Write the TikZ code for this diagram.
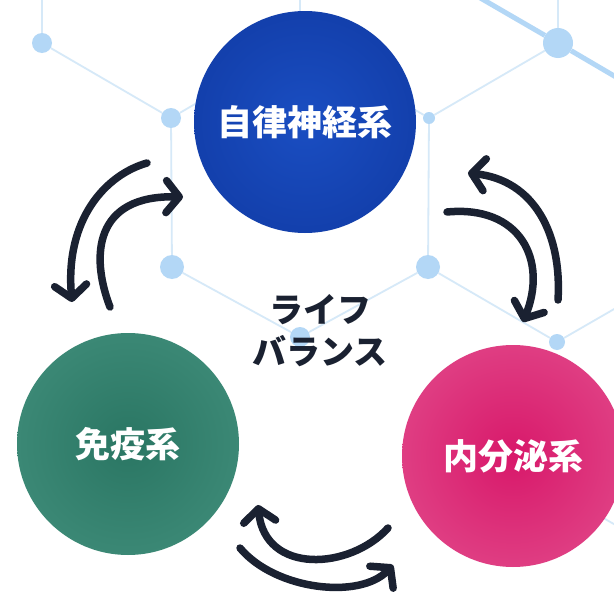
\documentclass[tikz,border=0pt]{standalone}
\usepackage{fontspec}
\newfontfamily\jpfont{Noto Sans CJK JP}
\usetikzlibrary{arrows.meta}

\definecolor{netline}{HTML}{D6E9F8}
\definecolor{netdot}{HTML}{B3D7F6}
\definecolor{ink}{HTML}{1A2131}
\definecolor{blueIn}{HTML}{1A4EC2}
\definecolor{blueOut}{HTML}{0C3196}
\definecolor{greenIn}{HTML}{2A7663}
\definecolor{greenOut}{HTML}{4C9A87}
\definecolor{pinkIn}{HTML}{D8186A}
\definecolor{pinkOut}{HTML}{E6639B}

\pgfdeclareradialshading{blueball}{\pgfpoint{0bp}{0bp}}{color(0bp)=(blueIn); color(50bp)=(blueOut)}
\pgfdeclareradialshading{greenball}{\pgfpoint{0bp}{0bp}}{color(0bp)=(greenIn); color(50bp)=(greenOut)}
\pgfdeclareradialshading{pinkball}{\pgfpoint{0bp}{0bp}}{color(0bp)=(pinkIn); color(50bp)=(pinkOut)}

\begin{document}
\begin{tikzpicture}[x=1pt, y=-1pt,
    dot/.style={circle, fill=netdot, inner sep=0pt},
    net/.style={draw=netline, line width=1.8pt},
    ball/.style={circle, minimum size=222pt, inner sep=0pt, text=white,
      font=\jpfont\bfseries\fontsize{35}{40}\selectfont},
    arr/.style={draw=ink, line width=7.5pt, line cap=round,
      -{Straight Barb[length=13pt 0, width=32pt 0, round]}}]
  \useasboundingbox (0,0) rectangle (614,597);
  \fill[white] (0,0) rectangle (614,597);

  % background network
  \coordinate (t1) at (42,-10);
  \coordinate (t3) at (300,-10);
  \coordinate (t5) at (558,-10);
  \coordinate (e1) at (470,-8);
  \coordinate (e2) at (650,97);
  \coordinate (e3) at (687,267);
  \coordinate (e4) at (558,492);
  \coordinate (e5) at (687,566);
  \node[dot, minimum size=20pt] (n1) at (42,43) {};
  \node[dot, minimum size=20pt] (n2) at (171,118) {};
  \node[dot, minimum size=12pt] (n3) at (300,43) {};
  \node[dot, minimum size=12pt] (n4) at (429,118) {};
  \node[dot, minimum size=30pt] (n5) at (558,43) {};
  \node[dot, minimum size=24pt] (n6) at (172,267) {};
  \node[dot, minimum size=20pt] (n7) at (300,337) {};
  \node[dot, minimum size=24pt] (n8) at (428,267) {};
  \node[dot, minimum size=16pt] (n9) at (557,342) {};
  \draw[net] (t1) -- (n1) -- (n2) -- (n3) -- (n4) -- (n5) -- (t5);
  \draw[net] (t3) -- (n3);
  \draw[net] (n2) -- (n6) -- (n7) -- (n8) -- (n4);
  \draw[net] (n8) -- (n9) -- (e3);
  \draw[net] (e4) -- (e5);
  \draw[netdot, line width=5pt] (e1) -- (n5) -- (e2);

  % the three systems
  \node[ball, shading=blueball] (ans) at (305,122) {自律神経系};
  \node[ball, shading=greenball] (imm) at (128,444) {免疫系};
  \node[ball, shading=pinkball] (endo) at (513,456) {内分泌系};

  \node[text=ink, align=center, font=\jpfont\bfseries\fontsize{34}{42}\selectfont] (life) at (320,331) {ライフ\\バランス};

  % arrows
  \coordinate (la1) at (147,163);
  \coordinate (la2) at (72,302);
  \coordinate (lb1) at (110,307);
  \coordinate (lb2) at (183,197);
  \coordinate (ra1) at (558,300);
  \coordinate (ra2) at (468,173);
  \coordinate (rb1) at (447,212);
  \coordinate (rb2) at (523,322);
  \coordinate (ba1) at (388,528);
  \coordinate (ba2) at (258,505);
  \coordinate (bb1) at (240,548);
  \coordinate (bb2) at (393,565);
  \draw[arr] (la1) .. controls (105,175) and (65,220) .. (la2);
  \draw[arr] (lb1) .. controls (90,255) and (95,195) .. (lb2);
  \draw[arr] (ra1) .. controls (562,235) and (535,180) .. (ra2);
  \draw[arr] (rb1) .. controls (520,205) and (548,260) .. (rb2);
  \draw[arr] (ba1) .. controls (350,570) and (265,575) .. (ba2);
  \draw[arr] (bb1) .. controls (275,590) and (360,600) .. (bb2);
\end{tikzpicture}
\end{document}
